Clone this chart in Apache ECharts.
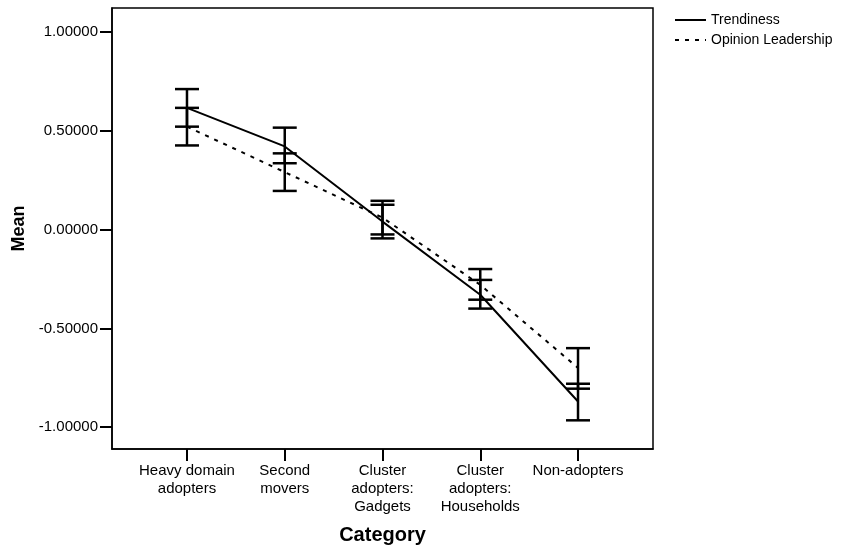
<!DOCTYPE html>
<html>
<head>
<meta charset="utf-8">
<script src="https://cdn.jsdelivr.net/npm/echarts@6/dist/echarts.min.js"></script>
<style>
  html, body { margin: 0; padding: 0; background: #fff; }
  #chart { width: 842px; height: 550px; }
</style>
</head>
<body>
<div id="chart"></div>
<script>
// categories on the x axis
var categories = ['Heavy domain\nadopters', 'Second\nmovers', 'Cluster\nadopters:\nGadgets', 'Cluster\nadopters:\nHouseholds', 'Non-adopters'];
var yTicks = [-1, -0.5, 0, 0.5, 1];

// Trendiness: mean and 95% CI
var trendMean = [0.615, 0.42, 0.04, -0.33, -0.87];
var trendLow  = [0.52, 0.335, -0.045, -0.40, -0.965];
var trendHigh = [0.71, 0.515, 0.125, -0.255, -0.78];

// Opinion Leadership: mean and 95% CI
var opinionMean = [0.52, 0.29, 0.06, -0.28, -0.70];
var opinionLow  = [0.425, 0.195, -0.025, -0.355, -0.805];
var opinionHigh = [0.615, 0.385, 0.145, -0.20, -0.60];

var FONT = '"Liberation Sans", Arial, sans-serif';

function pts(means) {
    return means.map(function (v, i) { return [i, v]; });
}
function bars(lo, hi) {
    return lo.map(function (v, i) { return [i, v, hi[i]]; });
}

function renderErrorBar(params, api) {
    var x = api.value(0);
    var lo = api.coord([x, api.value(1)]);
    var hi = api.coord([x, api.value(2)]);
    var half = 12;
    var style = { stroke: '#000', lineWidth: 2.5 };
    return {
        type: 'group',
        children: [
            { type: 'line', shape: { x1: lo[0], y1: lo[1], x2: hi[0], y2: hi[1] }, style: style },
            { type: 'line', shape: { x1: lo[0] - half, y1: lo[1], x2: lo[0] + half, y2: lo[1] }, style: style },
            { type: 'line', shape: { x1: hi[0] - half, y1: hi[1], x2: hi[0] + half, y2: hi[1] }, style: style }
        ]
    };
}

var chart = echarts.init(document.getElementById('chart'), null, { renderer: 'canvas' });

var option = {
    animation: false,
    backgroundColor: '#fff',
    textStyle: { fontFamily: FONT, color: '#000' },
    grid: {
        left: 112, top: 8, right: 189, bottom: 97,
        show: true, borderColor: '#000', borderWidth: 1.5, backgroundColor: 'transparent'
    },
    legend: {
        orient: 'vertical',
        left: 674, top: 13,
        itemWidth: 31, itemHeight: 14, itemGap: 6,
        padding: 0,
        itemStyle: { color: 'transparent', borderColor: 'transparent', borderWidth: 0 },
        textStyle: { fontFamily: FONT, fontSize: 14, color: '#000' },
        data: ['Trendiness', 'Opinion Leadership']
    },
    xAxis: {
        type: 'value',
        min: -0.767, max: 4.767,
        name: 'Category',
        nameLocation: 'middle',
        nameGap: 76,
        nameTextStyle: { fontFamily: FONT, fontSize: 20, fontWeight: 'bold', color: '#000' },
        splitLine: { show: false },
        axisLine: { onZero: false, lineStyle: { color: '#000', width: 1.5 } },
        axisTick: { customValues: [0, 1, 2, 3, 4], length: 12, lineStyle: { color: '#000', width: 2 } },
        axisLabel: {
            customValues: [0, 1, 2, 3, 4],
            margin: 13,
            fontFamily: FONT, fontSize: 15, color: '#000', lineHeight: 18,
            formatter: function (v) { return categories[Math.round(v)]; }
        }
    },
    yAxis: {
        type: 'value',
        min: -1.11, max: 1.12,
        name: 'Mean',
        nameLocation: 'middle',
        nameRotate: 90,
        nameGap: 79,
        nameTextStyle: { fontFamily: FONT, fontSize: 18, fontWeight: 'bold', color: '#000' },
        splitLine: { show: false },
        axisLine: { onZero: false, lineStyle: { color: '#000', width: 1.5 } },
        axisTick: { customValues: yTicks, length: 12, lineStyle: { color: '#000', width: 2 } },
        axisLabel: {
            customValues: yTicks,
            margin: 14,
            fontFamily: FONT, fontSize: 15, color: '#000',
            formatter: function (v) { return v.toFixed(5); }
        }
    },
    series: [
        {
            name: 'Trendiness',
            type: 'line',
            symbol: 'none',
            lineStyle: { color: '#000', width: 2, type: 'solid' },
            itemStyle: { color: '#000' },
            data: pts(trendMean)
        },
        {
            name: 'Opinion Leadership',
            type: 'line',
            symbol: 'none',
            lineStyle: { color: '#000', width: 2, type: [4, 6] },
            itemStyle: { color: '#000' },
            data: pts(opinionMean)
        },
        {
            type: 'custom',
            renderItem: renderErrorBar,
            encode: { x: 0, y: [1, 2] },
            data: bars(trendLow, trendHigh)
        },
        {
            type: 'custom',
            renderItem: renderErrorBar,
            encode: { x: 0, y: [1, 2] },
            data: bars(opinionLow, opinionHigh)
        }
    ]
};

chart.setOption(option);
</script>
</body>
</html>
